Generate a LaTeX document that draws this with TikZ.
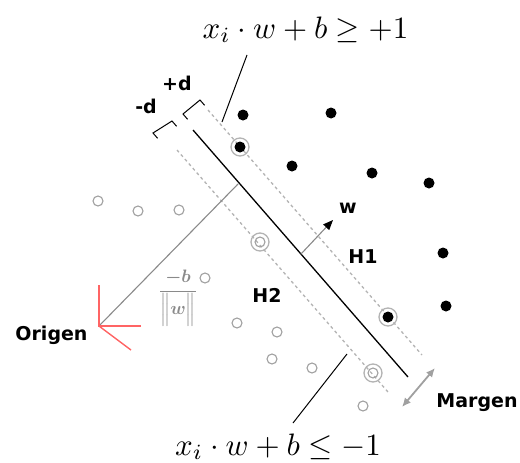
\documentclass[tikz,border=0pt]{standalone}
\usepackage{fontspec}
\newfontfamily\etiqfont{DejaVu Sans}
\usetikzlibrary{arrows.meta}
\definecolor{ejegris}{HTML}{8A8A8A}
\definecolor{rojoeje}{HTML}{FF6464}
\definecolor{puntogris}{HTML}{A0A0A0}

\begin{document}
\begin{tikzpicture}[x=1pt,y=-1pt,
    etiq/.style={font=\etiqfont\bfseries\fontsize{19}{22}\selectfont, inner sep=0pt, anchor=base},
    formula/.style={scale=3.1, inner sep=0pt, anchor=base},
    negro/.style={circle, fill=black, inner sep=0pt, minimum size=11pt},
    hueco/.style={circle, draw=puntogris, line width=1.1pt, inner sep=0pt, minimum size=10pt},
    anillo/.style={circle, draw=puntogris!80, line width=1.3pt, inner sep=0pt, minimum size=18pt},
    margen/.style={puntogris!80, line width=1.3pt, dash pattern=on 3pt off 3pt},
    corchete/.style={black, line width=1pt},
    guia/.style={black, line width=1pt}]
  \useasboundingbox (0,0) rectangle (520,463);

  % Hiperplanos
  \coordinate (h0a) at (193,130); \coordinate (h0b) at (408,377);
  \coordinate (h1a) at (208,110); \coordinate (h1b) at (422,355);
  \coordinate (h2a) at (177,150); \coordinate (h2b) at (388,392);
  \draw[margen] (h1a) -- (h1b);
  \draw[margen] (h2a) -- (h2b);
  \draw[black, line width=1.3pt] (h0a) -- (h0b);

  % Distancias d
  \draw[corchete] (187.6,119.3) -- (183,114) -- (200,100) -- (204.6,105.3);
  \draw[corchete] (157.6,138.3) -- (153,133) -- (172,121) -- (176.6,126.3);
  \node[etiq] (masd) at (177,90) {+d};
  \node[etiq] (menosd) at (146,113) {-d};

  % Puntos de la clase positiva
  \foreach \x/\y [count=\i] in {243/115, 331/113, 292/166, 372/173, 429/183, 443/253, 446/306}
    \node[negro] (p\i) at (\x,\y) {};
  \node[anillo] (sv1) at (240,147) {};
  \node[negro] (p8) at (240,147) {};
  \node[anillo] (sv2) at (388,317) {};
  \node[negro] (p9) at (388,317) {};

  % Puntos de la clase negativa
  \foreach \x/\y [count=\i] in {98/201, 138/211, 179/210, 205/278, 237/323, 277/332, 272/359, 312/368, 363/406}
    \node[hueco] (n\i) at (\x,\y) {};
  \node[anillo] (sv3) at (260,242) {};
  \node[hueco] (n10) at (260,242) {};
  \node[anillo] (sv4) at (373,373) {};
  \node[hueco] (n11) at (373,373) {};

  % Origen
  \coordinate (O) at (99,326);
  \coordinate (P) at (238,184);
  \draw[ejegris, line width=1.1pt] (O) -- (P);
  \draw[rojoeje, line width=1.4pt] (99,285) -- (O) -- (141,326);
  \draw[rojoeje, line width=1.4pt] (O) -- (131,350);
  \node[etiq] (origen) at (51.5,340) {Origen};
  \node[text=ejegris, font=\boldmath, scale=1.8, inner sep=0pt, anchor=base] (dist) at (178,295.5)
    {$\displaystyle\frac{-b}{\Big\| w \Big\|}$};

  % Vector w
  \coordinate (wa) at (301,254);
  \coordinate (wb) at (333,220);
  \draw[ejegris, line width=1.1pt, -{Triangle[length=10pt, width=8pt, color=black]}] (wa) -- (wb);
  \node[etiq] (w) at (348,213) {w};
  \node[etiq] (H1) at (363,263) {H1};
  \node[etiq] (H2) at (267,302) {H2};

  % Margen
  \coordinate (ma) at (402,407);
  \coordinate (mb) at (435,368);
  \draw[puntogris, line width=1.8pt, {Latex[length=9pt, width=8pt]}-{Latex[length=9pt, width=8pt]}] (ma) -- (mb);
  \node[etiq] (margen) at (477,407) {Margen};

  % Restricciones
  \node[formula] (ecsup) at (305.5,38) {$x_i \cdot w + b \geq +1$};
  \node[formula] (ecinf) at (278,455) {$x_i \cdot w + b \leq -1$};
  \coordinate (ls) at (247,55); \coordinate (lsf) at (222,122);
  \coordinate (li) at (347,354); \coordinate (lif) at (293,423);
  \draw[guia] (ls) -- (lsf);
  \draw[guia] (li) -- (lif);
\end{tikzpicture}
\end{document}
